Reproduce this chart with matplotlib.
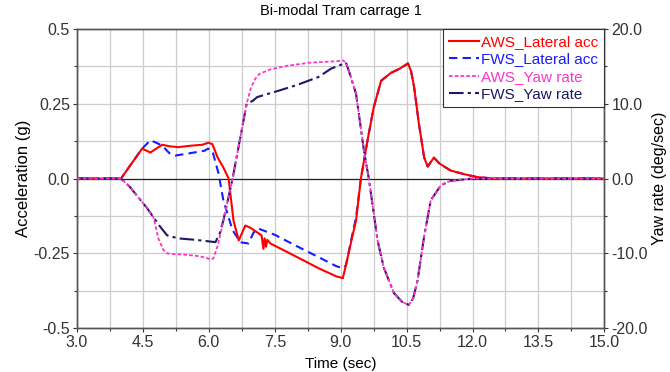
import numpy as np
import matplotlib.pyplot as plt
from matplotlib.ticker import MultipleLocator

plt.rcParams["font.family"] = ["Liberation Sans", "DejaVu Sans"]

# lateral acceleration (g)
t_aws_acc = [3.0, 4.0, 4.48, 4.6, 4.67, 4.8, 4.94, 5.1, 5.3, 5.6, 5.85, 5.99, 6.08,
             6.2, 6.33, 6.45, 6.56, 6.68, 6.76, 6.83, 6.95, 7.1, 7.2, 7.24, 7.27, 7.3,
             7.33, 7.4, 7.6, 8.0, 8.5, 8.9, 9.05, 9.16, 9.26, 9.35, 9.46, 9.61, 9.75,
             9.92, 10.14, 10.35, 10.53, 10.6, 10.67, 10.78, 10.9, 10.98, 11.12, 11.25,
             11.5, 11.8, 12.1, 12.5, 15.0]
aws_acc = [0, 0, 0.1, 0.092, 0.087, 0.1, 0.113, 0.108, 0.105, 0.11, 0.113, 0.12, 0.115,
           0.07, 0.037, 0.0, -0.14, -0.207, -0.18, -0.157, -0.165, -0.18, -0.19, -0.235,
           -0.2, -0.228, -0.205, -0.217, -0.232, -0.262, -0.3, -0.327, -0.333, -0.263,
           -0.197, -0.14, 0.0, 0.127, 0.237, 0.327, 0.353, 0.368, 0.385, 0.36, 0.307,
           0.183, 0.07, 0.04, 0.07, 0.05, 0.027, 0.015, 0.005, 0, 0]

t_fws_acc = [3.0, 4.0, 4.48, 4.67, 4.8, 4.94, 5.1, 5.24, 5.5, 5.9, 5.98, 6.08, 6.22,
             6.33, 6.54, 6.72, 6.9, 7.02, 7.12, 7.5, 8.0, 8.5, 8.9, 9.05, 9.12, 9.26,
             9.35, 9.46, 9.61, 9.75, 9.92, 10.14, 10.35, 10.53, 10.6, 10.67, 10.78,
             10.9, 10.98, 11.12, 11.25, 11.5, 11.8, 12.1, 12.5, 15.0]
fws_acc = [0, 0, 0.1, 0.128, 0.12, 0.11, 0.085, 0.077, 0.083, 0.093, 0.1, 0.093, 0.017,
           -0.073, -0.173, -0.213, -0.217, -0.18, -0.167, -0.188, -0.226, -0.263,
           -0.293, -0.3, -0.29, -0.19, -0.13, 0.0, 0.127, 0.237, 0.327, 0.353, 0.368,
           0.385, 0.36, 0.307, 0.183, 0.07, 0.04, 0.07, 0.05, 0.027, 0.015, 0.005, 0, 0]

# yaw rate (deg/sec)
t_aws_yaw = [3.0, 4.0, 4.2, 4.6, 4.74, 4.85, 4.96, 5.05, 5.2, 5.5, 5.8, 6.05, 6.1, 6.2,
             6.33, 6.54, 6.7, 6.86, 6.95, 7.05, 7.15, 7.4, 7.8, 8.3, 8.93, 9.05, 9.12,
             9.22, 9.35, 9.53, 9.64, 9.84, 9.98, 10.21, 10.4, 10.55, 10.65, 10.75, 10.9,
             11.05, 11.28, 11.5, 12.0, 15.0]
aws_yaw = [0, 0, -1.1, -4.0, -5.2, -8.0, -9.5, -10.0, -10.1, -10.2, -10.4, -10.8, -10.7,
           -9.0, -5.6, 0, 5, 10, 12, 13.3, 14.0, 14.6, 15.1, 15.5, 15.7, 15.8, 15.5,
           13.8, 11.3, 3.7, 0, -8.3, -11.9, -15.3, -16.5, -16.9, -16.0, -13.6, -7.7,
           -2.9, -0.9, -0.3, 0, 0]

t_fws_yaw = [3.0, 4.0, 4.2, 4.6, 4.74, 4.9, 5.05, 5.3, 5.7, 6.15, 6.25, 6.33, 6.54, 6.7,
             6.86, 7.0, 7.1, 7.56, 8.0, 8.5, 8.78, 9.0, 9.12, 9.22, 9.35, 9.53, 9.64,
             9.84, 9.98, 10.21, 10.4, 10.55, 10.65, 10.75, 10.9, 11.05, 11.28, 11.5,
             12.0, 15.0]
fws_yaw = [0, 0, -1.1, -4.0, -5.2, -6.5, -7.6, -8.0, -8.2, -8.5, -7.3, -5.6, 0, 5, 10,
           10.4, 10.9, 11.7, 12.5, 13.6, 14.7, 15.2, 15.5, 13.8, 11.3, 3.7, 0, -8.3,
           -11.9, -15.3, -16.5, -16.9, -16.0, -13.6, -7.7, -2.9, -0.9, -0.3, 0, 0]

fig = plt.figure(figsize=(6.7, 3.72), dpi=100)
ax = fig.add_axes([0.115, 0.118, 0.787, 0.804])
ax2 = ax.twinx()

l1, = ax.plot(t_aws_acc, aws_acc, color="#ff0000", lw=1.5, label="AWS_Lateral acc", zorder=4)
l2, = ax.plot(t_fws_acc, fws_acc, color="#1a1aff", lw=1.5, ls=(0, (4, 2.5)),
              label="FWS_Lateral acc", zorder=3)
l3, = ax2.plot(t_aws_yaw, aws_yaw, color="#ff33cc", lw=1.3, ls=(0, (2, 1.2)),
               label="AWS_Yaw rate", zorder=3)
l4, = ax2.plot(t_fws_yaw, fws_yaw, color="#1a1a66", lw=1.5, ls=(0, (7, 2, 1.5, 2)),
               label="FWS_Yaw rate", zorder=2)

ax.set_xlim(3.0, 15.0)
ax.set_ylim(-0.5, 0.5)
ax2.set_ylim(-20, 20)

ax.xaxis.set_minor_locator(MultipleLocator(0.75))
ax.yaxis.set_minor_locator(MultipleLocator(0.125))
ax2.yaxis.set_minor_locator(MultipleLocator(5))

ax.set_xticks(np.arange(3.0, 15.01, 1.5))
ax.set_xticklabels([f"{v:.1f}" for v in np.arange(3.0, 15.01, 1.5)])
ax.set_yticks([-0.5, -0.25, 0.0, 0.25, 0.5])
ax.set_yticklabels(["-0.5", "-0.25", "0.0", "0.25", "0.5"])
ax2.set_yticks([-20, -10, 0, 10, 20])
ax2.set_yticklabels(["-20.0", "-10.0", "0.0", "10.0", "20.0"])

ax.grid(True, which="both", color="#cccccc", lw=0.9)
ax.set_axisbelow(True)
ax.axhline(0, color="#222222", lw=0.9, zorder=1)

for a in (ax, ax2):
    a.tick_params(which="both", direction="out", length=3, width=0.8,
                  labelsize=11.5, colors="#333333", pad=2)
    a.tick_params(which="minor", length=2)
    for s in a.spines.values():
        s.set_color("#555555")
        s.set_linewidth(1.0)

ax.set_title("Bi-modal Tram carrage 1", fontsize=10.5, pad=10)
ax.set_xlabel("Time (sec)", fontsize=11, labelpad=5)
ax.set_ylabel("Acceleration (g)", fontsize=12, labelpad=2)
ax2.set_ylabel("Yaw rate (deg/sec)", fontsize=11.5, rotation=90, labelpad=3)

leg = ax2.legend(handles=[l1, l2, l3, l4], loc="upper right", fontsize=11,
                 handlelength=2.0, handletextpad=0.1, borderpad=0.4,
                 labelspacing=0.22, fancybox=False, framealpha=1,
                 borderaxespad=0.0)
leg.get_frame().set_edgecolor("#333333")
leg.get_frame().set_linewidth(0.8)
for txt, line in zip(leg.get_texts(), [l1, l2, l3, l4]):
    txt.set_color(line.get_color())

fig.savefig("out.png", dpi=100)
